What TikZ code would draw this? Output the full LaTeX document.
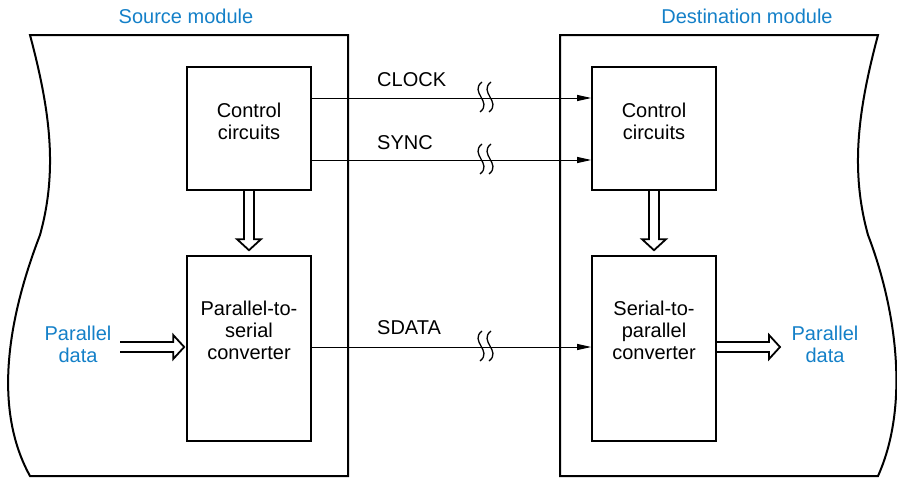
\documentclass[tikz,border=0pt]{standalone}
\usepackage{fontspec}
\setmainfont{Liberation Sans}
\usetikzlibrary{arrows.meta,calc}
\definecolor{modblue}{RGB}{20,128,200}
\newcommand\hollowR[2]{%
 \draw[hollow] let \p1=(#1), \p2=(#2) in (\x1,\y1+5pt) -- (\x2-11pt,\y1+5pt) -- (\x2-11pt,\y1+12pt) -- (\x2,\y1) -- (\x2-11pt,\y1-12pt) -- (\x2-11pt,\y1-5pt) -- (\x1,\y1-5pt);}
\newcommand\hollowD[2]{%
 \draw[hollow] let \p1=(#1), \p2=(#2) in (\x1-5pt,\y1) -- (\x1-5pt,\y2+11pt) -- (\x1-12pt,\y2+11pt) -- (\x1,\y2) -- (\x1+12pt,\y2+11pt) -- (\x1+5pt,\y2+11pt) -- (\x1+5pt,\y1);}
\newcommand\brkmark[1]{%
 \draw[brk] ($(#1)+(-3,-15)$) .. controls ($(#1)+(-16,-5)$) and ($(#1)+(8,5)$) .. ($(#1)+(-5,15)$);
 \draw[brk] ($(#1)+(6,-15)$) .. controls ($(#1)+(-7,-5)$) and ($(#1)+(17,5)$) .. ($(#1)+(4,15)$);}
\tikzset{
 module/.style={line width=2pt, line join=miter},
 blockbox/.style={draw, line width=1.6pt, minimum width=124pt, inner sep=0pt},
 btext/.style={align=center, font=\fontsize{20}{22}\selectfont, inner sep=0pt},
 blue/.style={text=modblue, align=center, font=\fontsize{20}{22}\selectfont, inner sep=0pt},
 siglabel/.style={anchor=west, font=\fontsize{20}{22}\selectfont, inner sep=0pt},
 sig/.style={line width=1pt},
 brk/.style={line width=1.3pt},
 sigarrow/.style={line width=1pt, -{Triangle[length=14pt,width=6pt]}},
 hollow/.style={line width=1.8pt, line join=miter}
}
\begin{document}
\begin{tikzpicture}[x=1pt,y=-1pt]
\useasboundingbox (0,0) rectangle (897,477);
% modules
\draw[module] (348,35) -- (30,35) .. controls (50,110) and (58,170) .. (40,235) .. controls (15,300) and (-12,400) .. (30,476) -- (348,476) -- cycle;
\draw[module] (560,35) -- (878,35) .. controls (858,110) and (850,170) .. (868,235) .. controls (893,300) and (912,400) .. (878,476) -- (560,476) -- cycle;
\node[blue] (srcl) at (186,16) {Source module};
\node[blue] (dstl) at (747,16) {Destination module};
% blocks
\node[blockbox, minimum height=123pt] (cc1) at (249,128.5) {};
\node[blockbox, minimum height=185pt] (ps) at (249,348.5) {};
\node[blockbox, minimum height=123pt] (cc2) at (654,128.5) {};
\node[blockbox, minimum height=185pt] (sp) at (654,348.5) {};
\node[btext] (cc1t) at (249,121) {Control\\circuits};
\node[btext] (pst) at (249,330) {Parallel-to-\\serial\\converter};
\node[btext] (cc2t) at (654,121) {Control\\circuits};
\node[btext] (spt) at (654,330) {Serial-to-\\parallel\\converter};
% signal lines
\coordinate (clk) at (0,98);
\coordinate (syn) at (0,160);
\coordinate (sdt) at (0,347);
\draw[sigarrow] (cc1.east|-clk) -- (cc2.west|-clk);
\draw[sigarrow] (cc1.east|-syn) -- (cc2.west|-syn);
\draw[sigarrow] (ps.east|-sdt) -- (sp.west|-sdt);
\node[siglabel] (clkl) at (377,80) {CLOCK};
\node[siglabel] (synl) at (377,143) {SYNC};
\node[siglabel] (sdtl) at (377,328) {SDATA};
\coordinate (b1) at (485,97);
\coordinate (b2) at (485,159);
\coordinate (b3) at (485,346);
\brkmark{b1}
\brkmark{b2}
\brkmark{b3}
% hollow arrows
\coordinate (t1) at ($(ps.north)+(0,-5)$);
\coordinate (t2) at ($(sp.north)+(0,-5)$);
\hollowD{cc1.south}{t1}
\hollowD{cc2.south}{t2}
\node[blue] (pdin) at (78,344) {Parallel\\data};
\node[blue] (pdout) at (825,344) {Parallel\\data};
\coordinate (pinS) at (120,347);
\coordinate (pinT) at ($(ps.west|-sdt)+(-2,0)$);
\hollowR{pinS}{pinT}
\coordinate (poutS) at (sp.east|-sdt);
\coordinate (poutT) at (780,347);
\hollowR{poutS}{poutT}
\end{tikzpicture}
\end{document}
